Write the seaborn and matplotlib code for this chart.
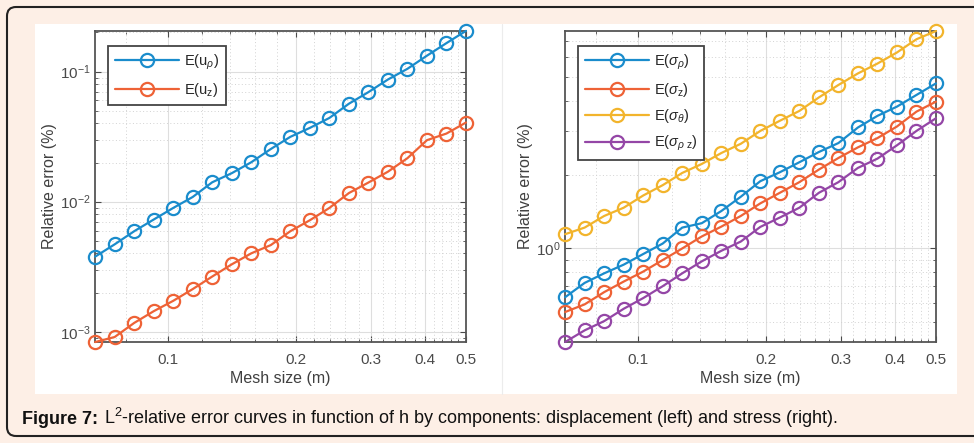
import seaborn as sns
import matplotlib.pyplot as plt
import matplotlib.ticker as mticker
from matplotlib.patches import Rectangle, FancyBboxPatch
from matplotlib.transforms import IdentityTransform
import pandas as pd

# Mesh sizes (m)
h = [0.06754, 0.07505, 0.08339, 0.09265, 0.10295, 0.11438, 0.12709, 0.14121, 0.15691, 0.17434,
     0.19371, 0.21523, 0.23915, 0.26572, 0.29525, 0.32805, 0.3645, 0.405, 0.45, 0.5]

# Displacement errors (left)
err_u_rho = [0.00378, 0.0047, 0.00593, 0.00729, 0.00895, 0.01087, 0.0141, 0.01656, 0.0201, 0.0254,
             0.0315, 0.0369, 0.0440, 0.0566, 0.0695, 0.0869, 0.105, 0.1325, 0.1655, 0.2055]
err_u_z = [0.000834, 0.000912, 0.00117, 0.00144, 0.00173, 0.00213, 0.00266, 0.0033, 0.00401, 0.00464,
           0.00593, 0.0072, 0.00895, 0.01165, 0.01403, 0.0170, 0.0216, 0.0297, 0.0334, 0.0406]

# Stress errors (right)
err_s_rho = [0.633, 0.724, 0.792, 0.859, 0.949, 1.047, 1.216, 1.267, 1.42, 1.624,
             1.879, 2.043, 2.244, 2.47, 2.686, 3.108, 3.466, 3.78, 4.217, 4.70]
err_s_z = [0.551, 0.592, 0.664, 0.733, 0.805, 0.897, 1.0, 1.119, 1.227, 1.356,
           1.526, 1.685, 1.862, 2.095, 2.335, 2.58, 2.814, 3.137, 3.607, 3.96]
err_s_theta = [1.143, 1.216, 1.356, 1.465, 1.643, 1.81, 2.03, 2.208, 2.446, 2.668,
               3.01, 3.31, 3.63, 4.12, 4.63, 5.16, 5.66, 6.28, 7.11, 7.68]
err_s_rhoz = [0.416, 0.464, 0.506, 0.568, 0.628, 0.702, 0.792, 0.886, 0.978, 1.067,
              1.224, 1.336, 1.465, 1.685, 1.862, 2.128, 2.321, 2.63, 3.01, 3.39]

left_labels = ['E(u$_{\\rho}$)', 'E(u$_{\\mathrm{z}}$)']
right_labels = ['E($\\sigma_{\\rho}$)', 'E($\\sigma_{\\mathrm{z}}$)',
                'E($\\sigma_{\\theta}$)', 'E($\\sigma_{\\rho\\ \\mathrm{z}}$)']
colors = ['#1a8ccc', '#ee6236', '#f2b42c', '#9446a6']

sns.set_style('ticks')
plt.rcParams['font.family'] = ['Liberation Sans', 'DejaVu Sans']
plt.rcParams['mathtext.fontset'] = 'custom'
plt.rcParams['mathtext.rm'] = 'Liberation Sans'
plt.rcParams['mathtext.it'] = 'Liberation Sans:italic'
plt.rcParams['mathtext.bf'] = 'Liberation Sans:bold'

W, H = 974, 443
fig = plt.figure(figsize=(W / 100, H / 100), dpi=100)
fig.patch.set_facecolor('#fdefe6')

# white picture panel + separator, page border
fig.add_artist(Rectangle((35 / W, 1 - 394 / H), (957 - 35) / W, (394 - 24) / H,
                         transform=fig.transFigure, facecolor='white', edgecolor='none', zorder=0))
fig.add_artist(plt.Line2D([502 / W, 502 / W], [1 - 394 / H, 1 - 24 / H], transform=fig.transFigure,
                          color='#ececec', lw=0.8, zorder=0))
fig.add_artist(FancyBboxPatch((7, H - 436), 1000, 429, boxstyle='round,pad=0,rounding_size=9',
                              transform=IdentityTransform(), facecolor='none', edgecolor='#222222',
                              lw=1.5, zorder=0))


def make_axes(x0, series, labels, cols, ylim, ymajor):
    ax = fig.add_axes([x0 / W, 1 - 342 / H, 371 / W, 311 / H])
    ax.set_facecolor('white')
    for ys, lab, c in zip(series, labels, cols):
        df = pd.DataFrame({'h': h, 'err': ys})
        sns.lineplot(data=df, x='h', y='err', ax=ax, color=c, lw=1.6, marker='o', ms=9.5,
                     markerfacecolor='none', markeredgecolor=c, markeredgewidth=1.6,
                     label=lab, clip_on=False, zorder=3)
    ax.set_xscale('log')
    ax.set_yscale('log')
    ax.set_xlim(0.0675, 0.5)
    ax.set_ylim(*ylim)
    ax.xaxis.set_major_locator(mticker.FixedLocator([0.1, 0.2, 0.3, 0.4, 0.5]))
    ax.xaxis.set_major_formatter(mticker.FixedFormatter(['0.1', '0.2', '0.3', '0.4', '0.5']))
    ax.xaxis.set_minor_locator(mticker.FixedLocator(
        [0.08, 0.12, 0.14, 0.16, 0.18, 0.22, 0.24, 0.26, 0.28, 0.32, 0.34, 0.36, 0.38,
         0.42, 0.44, 0.46, 0.48]))
    ax.xaxis.set_minor_formatter(mticker.NullFormatter())
    ax.yaxis.set_major_locator(mticker.FixedLocator(ymajor))
    ax.yaxis.set_major_formatter(mticker.LogFormatterSciNotation())
    ax.yaxis.set_minor_locator(mticker.LogLocator(base=10, subs=range(2, 10), numticks=20))
    ax.yaxis.set_minor_formatter(mticker.NullFormatter())
    ax.grid(True, which='major', color='#dedede', lw=0.8, ls='-')
    ax.grid(True, which='minor', color='#d2d2d2', lw=0.7, ls=(0, (1, 2.5)))
    ax.set_axisbelow(True)
    ax.tick_params(which='both', direction='in', top=True, right=True, colors='#4a4a4a',
                   labelsize=11, labelcolor='#4a4a4a')
    ax.tick_params(which='major', length=4, width=0.8)
    ax.tick_params(which='minor', length=2, width=0.6)
    ax.tick_params(axis='x', pad=8)
    ax.tick_params(axis='y', pad=3)
    for s in ax.spines.values():
        s.set_color('#555555')
        s.set_linewidth(1.3)
    ax.set_xlabel('Mesh size (m)', fontsize=11.5, color='#404040', labelpad=3)
    ax.set_ylabel('Relative error (%)', fontsize=11.5, color='#404040', labelpad=2)
    leg = ax.legend(loc='upper left', bbox_to_anchor=(13 / 371, 1 - 15 / 311), borderaxespad=0,
                    fancybox=False, framealpha=1, edgecolor='#444444', fontsize=10.5,
                    handlelength=4.4, labelspacing=0.6, borderpad=0.45, handletextpad=0.35)
    leg.get_frame().set_linewidth(1.3)
    return ax


make_axes(95, [err_u_rho, err_u_z], left_labels, colors[:2], (8.35e-4, 0.205), [1e-3, 1e-2, 1e-1])
make_axes(565, [err_s_rho, err_s_z, err_s_theta, err_s_rhoz], right_labels, colors,
          (0.416, 7.68), [1.0])

# caption: bold prefix, then the rest placed right after it
cap_y = 1 - 424 / H
t_bold = fig.text(22 / W, cap_y, 'Figure 7:', fontsize=13, fontweight='bold', color='#111111',
                  va='baseline', ha='left')
rend = fig.canvas.get_renderer()
bb = t_bold.get_window_extent(renderer=rend)
fig.text((bb.x1 + 6) / W, cap_y,
         'L$^{2}$-relative error curves in function of h by components: '
         'displacement (left) and stress (right).',
         fontsize=13, color='#111111', va='baseline', ha='left')

fig.savefig('out.png', dpi=100, facecolor=fig.get_facecolor())
